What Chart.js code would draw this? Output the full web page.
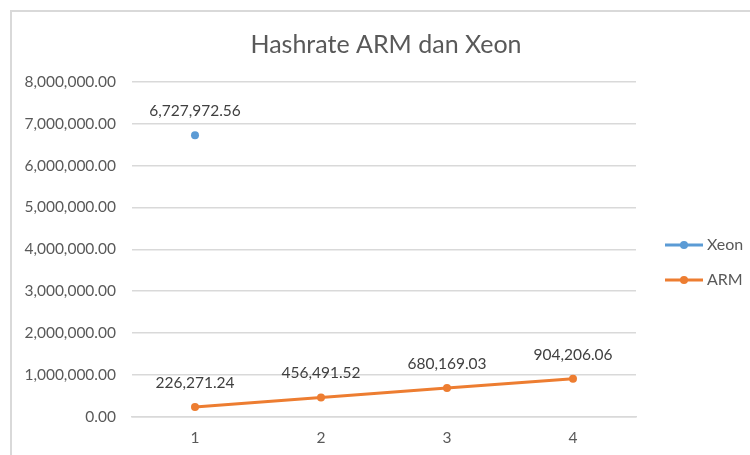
<!DOCTYPE html>
<html>
<head>
<meta charset="utf-8">
<script src="https://cdn.jsdelivr.net/npm/chart.js@4/dist/chart.umd.min.js"></script>
<style>
  body { margin: 0; background: #fff; }
  #frame { position: absolute; left: 10px; top: 10px; width: 760px; height: 460px; border: 1px solid #d9d9d9; border-width: 2px 0 0 2px; }
  #wrap { position: absolute; left: 0; top: 0; width: 750px; height: 455px; }
</style>
</head>
<body>
<div id="frame"></div>
<div id="wrap"><canvas id="myChart" width="750" height="455"></canvas></div>
<script>
// dati del grafico
var categories = ['1', '2', '3', '4'];
var xeonValues = [6727972.56, null, null, null];
var armValues = [226271.24, 456491.52, 680169.03, 904206.06];
var seriesNames = ['Xeon', 'ARM'];
var chartTitle = 'Hashrate ARM dan Xeon';

var FONT = 'Lato, "Open Sans", sans-serif';
var TXT = '#595959';

function fmt(v) {
    return v.toLocaleString('en-US', { minimumFractionDigits: 2, maximumFractionDigits: 2 });
}

// titolo, etichette dei punti e legenda
var extras = {
    id: 'extras',
    afterDatasetsDraw: function(chart) {
        var ctx = chart.ctx;
        var area = chart.chartArea;
        ctx.save();
        // etichette dati
        ctx.font = '15.5px ' + FONT;
        ctx.fillStyle = '#404040';
        ctx.textAlign = 'center';
        ctx.textBaseline = 'middle';
        chart.data.datasets.forEach(function(ds, i) {
            var meta = chart.getDatasetMeta(i);
            meta.data.forEach(function(pt, j) {
                if (ds.data[j] == null) return;
                ctx.fillText(fmt(ds.data[j]), pt.x, pt.y - 24);
            });
        });
        // titolo
        ctx.font = '25px ' + FONT;
        ctx.fillStyle = TXT;
        ctx.fillText(chartTitle, 386, 45);
        // legenda
        var lx = area.right + 29;
        var ly = 245;
        chart.data.datasets.forEach(function(ds, i) {
            var y = ly + i * 35;
            ctx.strokeStyle = ds.borderColor;
            ctx.lineWidth = 3;
            ctx.beginPath();
            ctx.moveTo(lx, y);
            ctx.lineTo(lx + 38, y);
            ctx.stroke();
            ctx.fillStyle = ds.borderColor;
            ctx.beginPath();
            ctx.arc(lx + 19, y, 4, 0, Math.PI * 2);
            ctx.fill();
            ctx.font = '16px ' + FONT;
            ctx.fillStyle = TXT;
            ctx.textAlign = 'left';
            ctx.fillText(ds.label, lx + 42, y);
        });
        ctx.restore();
    }
};

var ctx = document.getElementById('myChart').getContext('2d');
var myLineChart = new Chart(ctx, {
    type: 'line',
    data: {
        labels: categories,
        datasets: [{
            label: seriesNames[0],
            data: xeonValues,
            borderColor: '#5B9BD5',
            backgroundColor: '#5B9BD5',
            borderWidth: 3,
            pointRadius: 4,
            pointBorderWidth: 0,
            spanGaps: false
        }, {
            label: seriesNames[1],
            data: armValues,
            borderColor: '#ED7D31',
            backgroundColor: '#ED7D31',
            borderWidth: 3,
            pointRadius: 4,
            pointBorderWidth: 0
        }]
    },
    options: {
        responsive: false,
        animation: false,
        layout: { padding: { top: 82, right: 114, bottom: 0, left: 0 } },
        plugins: {
            legend: { display: false },
            title: { display: false },
            tooltip: { enabled: false }
        },
        scales: {
            x: {
                offset: true,
                grid: { display: false, drawTicks: false },
                border: { display: true, color: '#d9d9d9', width: 1.5 },
                ticks: { color: TXT, font: { family: FONT, size: 15.5 }, padding: 12 },
                afterFit: function(s) { s.height = 38.5; }
            },
            y: {
                min: 0,
                max: 8000000,
                ticks: {
                    stepSize: 1000000,
                    color: TXT,
                    font: { family: FONT, size: 15.5 },
                    padding: 16,
                    callback: function(v) { return fmt(v); }
                },
                grid: { color: '#d9d9d9', lineWidth: 1.5, drawTicks: false },
                border: { display: false },
                afterFit: function(s) { s.width = 132; }
            }
        }
    },
    plugins: [extras]
});
</script>
</body>
</html>
